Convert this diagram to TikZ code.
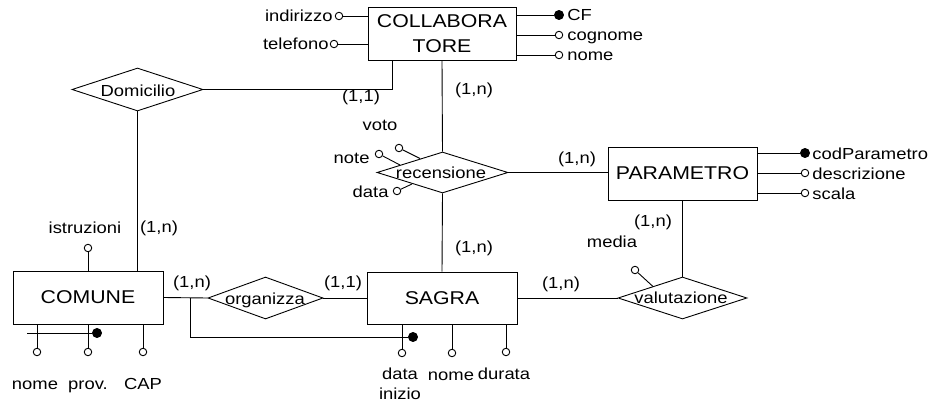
\documentclass[tikz,border=0pt]{standalone}
\usepackage{fontspec}
\setmainfont{Liberation Sans}[FakeStretch=1.15]
\usetikzlibrary{shapes.geometric}
\begin{document}
\begin{tikzpicture}[x=1pt,y=-1pt,line width=0.9pt,
  ent/.style={draw,rectangle,inner sep=0pt,font=\fontsize{18.5}{25}\selectfont,align=center},
  rel/.style={draw,diamond,inner sep=0pt,fill=white},
  txt/.style={font=\fontsize{16}{20}\selectfont,inner sep=0pt},
  attr/.style={draw,circle,fill=white,inner sep=0pt,minimum size=7.5pt},
  keyattr/.style={draw,circle,fill=black,inner sep=0pt,minimum size=9pt}]
\useasboundingbox (0,0) rectangle (935,404);
% entities
\node[ent,minimum width=148pt,minimum height=53pt] (coll) at (442,33.5) {COLLABORA\\TORE};
\node[ent,minimum width=150pt,minimum height=53pt] (com) at (88,297.5) {COMUNE};
\node[ent,minimum width=150pt,minimum height=52pt] (sag) at (442,298) {SAGRA};
\node[ent,minimum width=149pt,minimum height=53pt] (par) at (682.5,173.5) {PARAMETRO};
% relationships
\node[rel,minimum width=131pt,minimum height=43pt] (dom) at (137.5,89.5) {};
\node[rel,minimum width=115pt,minimum height=42pt] (org) at (265.5,298) {};
\node[rel,minimum width=131pt,minimum height=41pt] (rec) at (442.5,172.5) {};
\node[rel,minimum width=129pt,minimum height=42pt] (val) at (682.5,298) {};
% relationship connectors
\draw (dom.east) -| ([xshift=25pt]coll.south west);
\draw (dom.south) -- (dom.south |- com.north);
\draw (coll.south) -- (rec.north);
\draw (rec.south) -- (sag.north);
\draw (rec.east) -- (rec.east -| par.west);
\draw (par.south) -- (val.north);
\draw (sag.east) -- (val.west);
\draw (com.east) -- (org.west);
\draw (org.east) -- (sag.west);
% relationship labels
\node[txt,anchor=base] (domt) at (138,96) {Domicilio};
\node[txt,anchor=base] (orgt) at (265,304) {organizza};
\node[txt,anchor=base] (rect) at (441,178) {recensione};
\node[txt,anchor=base] (valt) at (681,303) {valutazione};
% cardinalities
\node[txt,anchor=base] (k1) at (361,102) {(1,1)};
\node[txt,anchor=base] (k2) at (474,95) {(1,n)};
\node[txt,anchor=base] (k3) at (159,232) {(1,n)};
\node[txt,anchor=base] (k4) at (192,287) {(1,n)};
\node[txt,anchor=base] (k5) at (343,287) {(1,1)};
\node[txt,anchor=base] (k6) at (474,252) {(1,n)};
\node[txt,anchor=base] (k7) at (577,163) {(1,n)};
\node[txt,anchor=base] (k8) at (653,226) {(1,n)};
\node[txt,anchor=base] (k9) at (561,288) {(1,n)};
% COLLABORATORE attributes
\node[attr] (aind) at (339,16) {};
\node[attr] (atel) at (334,44) {};
\node[keyattr] (acf) at (559,15) {};
\node[attr] (acog) at (559,35) {};
\node[attr] (anom) at (559,55) {};
\draw (aind) -- (aind -| coll.west);
\draw (atel) -- (atel -| coll.west);
\draw (acf) -- (acf -| coll.east);
\draw (acog) -- (acog -| coll.east);
\draw (anom) -- (anom -| coll.east);
\node[txt,anchor=base east] (tind) at (333,22) {indirizzo};
\node[txt,anchor=base east] (ttel) at (329,50) {telefono};
\node[txt,anchor=base west] (tcf) at (567,21) {CF};
\node[txt,anchor=base west] (tcog) at (567,41) {cognome};
\node[txt,anchor=base west] (tnom) at (567,61) {nome};
% PARAMETRO attributes
\node[keyattr] (acod) at (805,153) {};
\node[attr] (ades) at (805,173) {};
\node[attr] (asca) at (805,193) {};
\draw (acod) -- (acod -| par.east);
\draw (ades) -- (ades -| par.east);
\draw (asca) -- (asca -| par.east);
\node[txt,anchor=base west] (tcod) at (812,159) {codParametro};
\node[txt,anchor=base west] (tdes) at (812,179) {descrizione};
\node[txt,anchor=base west] (tsca) at (812,199) {scala};
% recensione attributes
\coordinate (evoto) at (420,158.5);
\coordinate (enote) at (400,165);
\coordinate (edata) at (412,184);
\node[attr] (avoto) at (399,148) {};
\node[attr] (anote) at (379,154) {};
\node[attr] (adata) at (397,191) {};
\draw (avoto) -- (evoto);
\draw (anote) -- (enote);
\draw (adata) -- (edata);
\node[txt,anchor=base] (tvoto) at (380,131) {voto};
\node[txt,anchor=base east] (tnote) at (370,163) {note};
\node[txt,anchor=base east] (tdata) at (389,197) {data};
% valutazione attribute
\coordinate (emedia) at (653,286.5);
\node[attr] (amedia) at (635,270) {};
\draw (amedia) -- (emedia);
\node[txt,anchor=base] (tmedia) at (612,247) {media};
% COMUNE attributes
\node[attr] (aistr) at (88,248) {};
\draw (aistr) -- (com.north);
\node[txt,anchor=base] (tistr) at (85,233) {istruzioni};
\node[attr] (acnom) at (37,352) {};
\node[attr] (acprov) at (88,352) {};
\node[attr] (accap) at (143,352) {};
\draw (acnom) -- (acnom |- com.south);
\draw (acprov) -- (acprov |- com.south);
\draw (accap) -- (accap |- com.south);
\coordinate (cidstart) at (27,333);
\node[keyattr] (cidkey) at (97,333) {};
\draw (cidstart) -- (cidkey);
\node[txt,anchor=base] (tcnom) at (35,389) {nome};
\node[txt,anchor=base] (tcprov) at (88,389) {prov.};
\node[txt,anchor=base] (tccap) at (143,389) {CAP};
% SAGRA attributes
\node[attr] (asdata) at (402,353) {};
\node[attr] (asnom) at (452,353) {};
\node[attr] (asdur) at (506,352) {};
\draw (asdata) -- (asdata |- sag.south);
\draw (asnom) -- (asnom |- sag.south);
\draw (asdur) -- (asdur |- sag.south);
\coordinate (sidstart) at (190,298);
\node[keyattr] (sidkey) at (413,337) {};
\draw (sidstart) |- (sidkey);
\node[txt,anchor=base,align=center,font=\fontsize{16}{20}\selectfont] (tsdata) at (400,399) {data\\inizio};
\node[txt,anchor=base] (tsnom) at (451,380) {nome};
\node[txt,anchor=base] (tsdur) at (504,379) {durata};
\end{tikzpicture}
\end{document}
